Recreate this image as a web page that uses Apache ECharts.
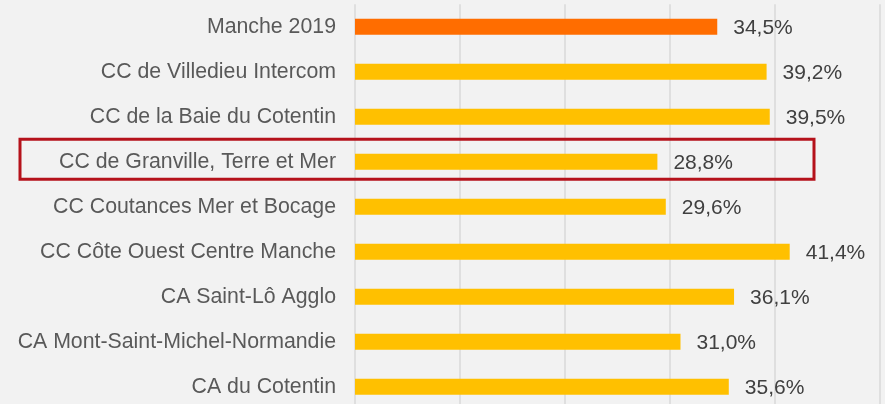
<!DOCTYPE html>
<html>
<head>
<meta charset="utf-8">
<script src="https://cdn.jsdelivr.net/npm/echarts@6/dist/echarts.min.js"></script>
<style>
  html, body { margin: 0; padding: 0; background: #f2f2f2; overflow: hidden; }
  /* le graphique déborde un peu en bas, comme dans l'original */
  #chart { width: 885px; height: 414px; }
</style>
</head>
<body>
<div id="chart"></div>
<script>
  // categories, top to bottom
  var territoires = [
    'Manche 2019',
    'CC de Villedieu Intercom',
    'CC de la Baie du Cotentin',
    'CC de Granville, Terre et Mer',
    'CC Coutances Mer et Bocage',
    'CC Côte Ouest Centre Manche',
    'CA Saint-Lô Agglo',
    'CA Mont-Saint-Michel-Normandie',
    'CA du Cotentin'
  ];
  // part en %
  var parts = [34.5, 39.2, 39.5, 28.8, 29.6, 41.4, 36.1, 31.0, 35.6];
  var reference = 'Manche 2019';
  var encadre = 'CC de Granville, Terre et Mer';

  var chart = echarts.init(document.getElementById('chart'));
  var option = {
    backgroundColor: '#f2f2f2',
    animation: false,
    grid: {
      left: 355,
      right: 5,
      top: 4.3,
      bottom: 4.7,
      containLabel: false
    },
    xAxis: {
      type: 'value',
      min: 0,
      max: 50,
      interval: 10,
      axisLabel: { show: false },
      axisLine: { show: false },
      axisTick: { show: false },
      splitLine: {
        show: true,
        lineStyle: { color: '#d9d9d9', width: 1.5 }
      }
    },
    yAxis: {
      type: 'category',
      data: territoires,
      inverse: true,
      axisLine: { show: false },
      axisTick: { show: false },
      axisLabel: {
        margin: 19,
        fontFamily: 'Liberation Sans, Arial, sans-serif',
        fontSize: 21.3,
        color: '#595959'
      }
    },
    series: [{
      type: 'bar',
      data: parts,
      barWidth: 16,
      itemStyle: {
        color: function (p) {
          return p.name === reference ? '#ff6d00' : '#ffc000';
        }
      },
      label: {
        show: true,
        position: 'right',
        distance: 16,
        offset: [0, 1.5],
        fontFamily: 'Liberation Sans, Arial, sans-serif',
        fontSize: 21,
        color: '#404040',
        formatter: function (p) {
          return p.value.toFixed(1).replace('.', ',') + '%';
        }
      }
    }]
  };
  chart.setOption(option);

  // cadre rouge autour du territoire mis en avant
  var yc = chart.convertToPixel({ yAxisIndex: 0 }, territoires.indexOf(encadre));
  chart.setOption({
    graphic: [{
      type: 'rect',
      shape: { x: 20, y: yc - 22.5, width: 794, height: 40 },
      style: { fill: 'none', stroke: '#b5121b', lineWidth: 3 },
      z: 100
    }]
  });
</script>
</body>
</html>
